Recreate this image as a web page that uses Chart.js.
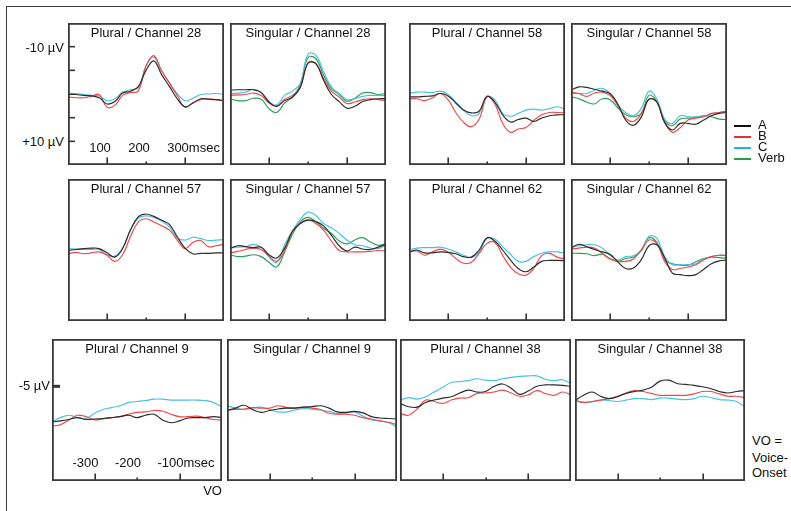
<!DOCTYPE html>
<html><head><meta charset="utf-8"><title>ERP channels</title>
<script src="https://cdn.jsdelivr.net/npm/chart.js@4.4.1/dist/chart.umd.min.js"></script>
<style>
html,body{margin:0;padding:0;background:#fff;}
body{position:relative;width:791px;height:511px;overflow:hidden;font-family:"Liberation Sans",Arial,Helvetica,sans-serif;font-size:13px;color:#111;}
#frame{position:absolute;left:6px;top:6px;width:830px;height:540px;border-left:1.5px solid #3c3c3c;border-top:1.5px solid #3c3c3c;}
canvas{position:absolute;display:block;}
.t{position:absolute;white-space:nowrap;line-height:16px;height:16px;}
.lg{position:absolute;height:2.5px;width:17px;}
</style></head><body>
<div id="frame"></div>
<script>
// ---- time bases (ms) ----
const tPost = [0,20,40,60,80,100,120,140,160,180,200,220,240,260,280,300,320,340,360,380,400];
const tPre  = [-400,-380,-360,-340,-320,-300,-280,-260,-240,-220,-200,-180,-160,-140,-120,-100,-80,-60,-40,-20,0];

// ---- tick values and labels ----
const postTicks = [100,200,300];
const postTickLabels = ['100','200','300'];
const preTicks = [-300,-200,-100];
const preTickLabels = ['-300','-200','-100'];
const unitLabel = 'msec';
const yTicksTop = [-10,-5,5,10];
const yTickLabelsTop = {'-10':'-10 µV','10':'+10 µV'};
const yTicksBottom = [-5];
const yTickLabelsBottom = {'-5':'-5 µV'};

// ---- series names ----
const seriesNames = ['A','B','C','Verb'];

// ---- data (µV, negative up) ----
// Plural / Channel 28
const pl28_A = [0.1,0.1,0.3,0.4,0.8,2.1,1.6,-0.2,-0.6,-1.5,-5.0,-7.0,-4.1,-1.6,1.0,2.7,1.9,1.0,1.1,1.2,1.4];
const pl28_B = [0.6,0.8,0.8,0.5,0.1,2.8,2.4,0.3,-0.3,-0.6,-5.9,-8.1,-4.9,-2.3,0.3,2.8,1.9,1.2,1.0,1.2,1.4];
const pl28_C = [-0.2,-0.1,0.1,0.3,0.4,1.4,1.0,-0.4,-0.9,-1.4,-5.9,-7.8,-4.9,-2.4,-0.1,1.4,0.9,0.1,0,-0.1,0.1];
// Singular / Channel 28
const sg28_A = [-0.8,-0.9,-0.9,-0.9,-0.3,1.7,2.6,1.4,0.7,-1.3,-6.5,-6.4,-2.9,0.1,1.6,3.0,2.6,1.6,1.2,1.0,1.0];
const sg28_B = [0.3,0.2,0.1,-0.2,0.3,1.9,2.6,1.1,0.3,-1.5,-6.6,-6.5,-3.3,-0.6,0.6,2.0,1.7,1.2,1.0,1.2,1.4];
const sg28_C = [-0.1,-0.2,-0.4,-1.0,-0.4,1.6,2.3,0.3,-0.6,-2.2,-8.4,-8.2,-4.7,-1.5,-0.1,1.2,1.0,0.5,0.3,0.3,0.3];
const sg28_V = [1.0,1.4,1.4,0.9,1.1,3.1,3.9,1.9,0.6,-1.9,-7.7,-7.5,-4.0,-1.1,0.1,1.5,0.9,-0.2,-0.3,0.1,-0.1];
// Plural / Channel 58
const pl58_A = [0.6,0.6,0.5,0.4,-0.1,0.4,1.9,3.4,4.0,3.6,0.5,1.7,4.4,5.9,5.4,5.1,5.8,5.1,4.6,4.4,4.4];
const pl58_B = [1.0,1.0,1.4,0.8,-0.1,1.2,3.9,6.0,6.9,5.3,0.6,2.1,6.2,8.1,7.4,7.1,5.6,4.4,3.9,3.9,4.0];
const pl58_C = [-0.1,-0.4,-0.4,-0.3,-0.6,0.1,1.7,3.5,4.6,4.1,0.6,1.2,4.1,4.7,4.1,3.4,3.2,3.4,3.1,2.7,3.2];
// Singular / Channel 58
const sg58_A = [-0.8,-1.5,-1.4,-1.0,-0.6,-0.1,2.1,5.5,6.6,4.9,1.1,1.7,6.0,7.6,6.2,6.2,6.4,5.5,4.6,4.1,3.9];
const sg58_B = [-0.4,-0.1,0.5,-0.2,-0.4,0.3,2.4,5.1,5.8,4.2,1.1,1.7,6.0,8.1,7.1,5.5,5.1,4.8,4.1,3.9,3.6];
const sg58_C = [-0.1,-0.1,-0.1,-0.8,-1.2,-0.1,2.4,3.9,4.6,3.1,-0.6,1.0,5.3,6.2,4.6,4.8,4.9,4.8,4.2,3.9,3.7];
const sg58_V = [0.6,1.0,1.7,2.1,1.0,1.2,2.9,4.4,4.8,4.1,0.3,1.5,5.6,6.7,5.3,5.1,4.9,4.6,4.8,5.3,5.4];
// Plural / Channel 57
const pl57_A = [0.1,-0.1,-0.3,-0.4,-0.3,0.6,1.5,-0.3,-4.2,-7.0,-7.6,-7.1,-6.3,-5.4,-2.8,-0.4,0.8,0.7,0.7,0.6,0.6];
const pl57_B = [0.8,0.5,0.8,0.6,0.4,1.1,2.4,1.0,-2.8,-5.9,-6.6,-5.9,-5.1,-4.2,-2.1,-0.3,-1.6,-2.0,-0.7,-0.9,-1.2];
const pl57_C = [-0.3,-0.2,-0.1,-0.1,-0.1,1.0,1.3,-0.4,-4.2,-6.7,-7.2,-6.9,-6.1,-4.9,-2.6,-2.1,-2.7,-2.4,-2.0,-2.1,-2.2];
// Singular / Channel 57
const sg57_A = [-0.3,-0.9,-0.7,-0.5,-0.6,1.0,1.7,-0.4,-3.9,-5.6,-6.3,-6.0,-5.1,-3.1,-0.9,0.2,-0.6,-0.2,-0.1,-0.6,-1.3];
const sg57_B = [0.6,0.3,-0.1,-0.4,-0.1,1.3,2.4,0.1,-4.0,-5.6,-6.4,-5.6,-4.2,-1.9,0.1,0.4,0.4,0.4,0.3,0.1,0.2];
const sg57_C = [-0.4,-0.6,-0.7,-1.2,-0.6,1.5,2.6,-1.1,-4.0,-6.4,-8.0,-7.3,-5.6,-4.7,-3.5,-2.1,-1.1,-0.9,-0.4,-0.3,-1.0];
const sg57_V = [1.0,1.4,1.3,1.0,1.4,2.6,3.6,0.4,-3.3,-5.9,-6.9,-6.0,-4.6,-3.5,-1.9,-1.3,-2.1,-2.6,-1.7,-1.0,-1.3];
// Plural / Channel 62
const pl62_A = [0.4,0,0.6,0.6,0.4,0.5,0.8,1.4,1.5,0,-2.6,-1.9,0,2.1,3.9,4.6,3.6,2.4,2.2,2.2,2.3];
const pl62_B = [0.5,0.2,1.1,0.4,-0.2,0.4,1.8,2.8,2.6,0.7,-1.4,-1.6,1.1,3.6,5.0,5.3,3.9,1.2,0.7,1.5,1.9];
const pl62_C = [0,-0.4,-0.5,-0.5,-0.6,-0.2,0.4,1.1,1.6,0.4,-2.4,-2.3,-0.7,0.9,2.4,2.4,1.4,0.7,0.4,0.4,0.7];
// Singular / Channel 62
const sg62_A = [-0.4,-1.2,-0.7,-0.1,0.4,0.9,2.5,3.9,3.8,2.1,-0.9,-1.1,1.6,4.9,5.2,5.4,5.2,4.1,2.9,2.3,2.1];
const sg62_B = [-0.2,-0.4,-0.6,-0.4,0.7,1.9,2.4,2.4,1.9,0,-2.1,-1.4,2.4,4.1,3.9,3.6,3.1,2.1,1.4,1.1,1.2];
const sg62_C = [-0.7,-0.9,-1.1,-1.1,-0.4,1.1,2.1,1.4,1.2,0,-2.9,-2.5,1.4,3.1,3.1,3.1,2.9,1.9,1.4,1.1,1.2];
const sg62_V = [0.7,0.7,0.8,1.2,0.9,1.8,2.4,1.8,1.5,0.2,-2.6,-1.6,2.1,2.9,3.2,3.2,2.5,1.8,1.5,1.6,1.8];
// Plural / Channel 9 (pre voice onset)
const pl9_A = [2.5,2.3,2.0,1.6,2.0,1.9,1.8,1.6,1.4,1.1,1.6,1.1,0.9,2.1,2.7,2.3,1.7,1.6,1.6,1.4,1.6];
const pl9_B = [3.4,3.1,2.1,1.1,1.4,2.1,1.9,1.6,1.4,0.9,0.5,0.4,0.1,0.2,0.9,1.4,1.4,1.3,1.6,2.0,2.1];
const pl9_C = [2.5,1.6,1.1,1.6,1.8,0.7,-0.1,-0.5,-0.9,-1.6,-1.8,-2.0,-2.3,-2.3,-2.1,-2.1,-2.1,-2.1,-2.0,-1.6,-0.6];
// Singular / Channel 9
const sg9_A = [0.1,-0.4,-1.0,-0.1,0.5,0.1,-0.2,-0.4,-0.4,-0.6,-0.7,-0.9,-0.4,0.4,0.5,0.3,0.6,1.4,1.7,1.8,1.9];
const sg9_B = [0,-0.1,-0.2,-0.5,-0.4,-0.4,-0.9,-0.5,-0.4,-0.6,-0.4,-0.1,0.7,0.9,0.9,1.1,1.6,1.9,2.3,2.6,3.1];
const sg9_C = [-0.9,-0.4,-0.1,-0.4,-0.6,-0.1,0.4,0.4,0,-0.3,-0.2,0,0.3,0.7,0.7,0.4,1.3,2.1,2.3,2.7,3.6];
// Plural / Channel 38
const pl38_A = [-1.4,-0.7,-0.6,-1.6,-2.1,-2.5,-2.8,-3.6,-4.2,-3.8,-3.9,-5.0,-5.5,-4.6,-3.3,-4.0,-5.0,-5.3,-5.3,-5.2,-5.0];
const pl38_B = [0.7,1.1,-0.2,-2.1,-1.8,-1.4,-2.1,-2.5,-2.6,-3.5,-3.6,-3.8,-4.2,-3.6,-2.9,-3.2,-4.1,-3.5,-3.1,-3.8,-3.2];
const pl38_C = [-2.1,-2.6,-2.3,-2.8,-3.8,-4.8,-5.8,-6.0,-6.2,-6.6,-6.3,-6.2,-6.6,-6.9,-7.1,-7.2,-7.2,-6.5,-6.2,-6.4,-5.6];
// Singular / Channel 38
const sg38_A = [-2.0,-3.1,-3.8,-2.9,-2.4,-2.8,-3.5,-3.9,-4.2,-4.8,-6.1,-6.3,-5.6,-5.4,-5.2,-4.9,-4.5,-3.9,-3.6,-3.9,-4.1];
const sg38_B = [-2.0,-1.6,-1.8,-2.1,-2.4,-2.9,-3.6,-4.1,-3.9,-3.5,-3.1,-3.1,-3.1,-3.1,-3.4,-3.9,-3.9,-3.4,-2.9,-2.9,-2.6];
const sg38_C = [-2.0,-1.6,-1.7,-2.1,-2.0,-1.8,-2.1,-2.4,-2.4,-2.2,-2.5,-2.5,-2.3,-2.2,-2.4,-2.9,-2.6,-2.2,-2.1,-1.8,-0.6];

// ---- styling (kept apart from data) ----
const lineColors = {A:'#2a2a2a', B:'#f04848', C:'#45c2e2', Verb:'#2e9e56'};
const legendColors = {A:'#111111', B:'#e8302e', C:'#22b2d8', Verb:'#2a9a48'};

// ---- panel layout: [left, top, width, height] ----
const panels = [
  {title:'Plural / Channel 28',   box:[68,23,156,142],  t:tPost, s:{A:pl28_A,B:pl28_B,C:pl28_C}, yt:'top', xl:'post'},
  {title:'Singular / Channel 28', box:[230,23,156,142], t:tPost, s:{A:sg28_A,B:sg28_B,C:sg28_C,Verb:sg28_V}},
  {title:'Plural / Channel 58',   box:[409,23,156,142], t:tPost, s:{A:pl58_A,B:pl58_B,C:pl58_C}},
  {title:'Singular / Channel 58', box:[571,23,156,142], t:tPost, s:{A:sg58_A,B:sg58_B,C:sg58_C,Verb:sg58_V}},
  {title:'Plural / Channel 57',   box:[68,179,156,142], t:tPost, s:{A:pl57_A,B:pl57_B,C:pl57_C}},
  {title:'Singular / Channel 57', box:[230,179,156,142],t:tPost, s:{A:sg57_A,B:sg57_B,C:sg57_C,Verb:sg57_V}},
  {title:'Plural / Channel 62',   box:[409,179,156,142],t:tPost, s:{A:pl62_A,B:pl62_B,C:pl62_C}},
  {title:'Singular / Channel 62', box:[571,179,156,142],t:tPost, s:{A:sg62_A,B:sg62_B,C:sg62_C,Verb:sg62_V}},
  {title:'Plural / Channel 9',    box:[52,339,170,142], t:tPre,  s:{A:pl9_A,B:pl9_B,C:pl9_C}, yt:'bottom', xl:'pre'},
  {title:'Singular / Channel 9',  box:[227,339,170,142],t:tPre,  s:{A:sg9_A,B:sg9_B,C:sg9_C}},
  {title:'Plural / Channel 38',   box:[400,339,171,142],t:tPre,  s:{A:pl38_A,B:pl38_B,C:pl38_C}},
  {title:'Singular / Channel 38', box:[575,339,170,142],t:tPre,  s:{A:sg38_A,B:sg38_B,C:sg38_C}}
];

function addText(txt, x, yCenter, align){
  const d = document.createElement('div');
  d.className = 't';
  d.textContent = txt;
  d.style.left = x + 'px';
  d.style.top = (yCenter - 8) + 'px';
  if (align === 'center') d.style.transform = 'translateX(-50%)';
  if (align === 'right') d.style.transform = 'translateX(-100%)';
  document.body.appendChild(d);
  return d;
}

const deco = {
  id: 'deco',
  afterDatasetsDraw(chart, args, o) {
    const {ctx, chartArea: a, scales: {x, y}} = chart;
    ctx.save();
    ctx.strokeStyle = '#333';
    ctx.lineCap = 'butt';
    // bottom ticks (inside, pointing up)
    ctx.lineWidth = 1.6;
    o.xTicks.forEach((v, i) => {
      const px = Math.round(x.getPixelForValue(v)) + 0.2;
      const len = (i === 1) ? 3.5 : 7.5;
      ctx.beginPath(); ctx.moveTo(px, a.bottom); ctx.lineTo(px, a.bottom - len); ctx.stroke();
    });
    // y ticks (inside, pointing right)
    if (o.yTicks) {
      ctx.lineWidth = o.yTickWidth;
      o.yTicks.forEach(v => {
        const py = y.getPixelForValue(v);
        ctx.beginPath(); ctx.moveTo(a.left, py); ctx.lineTo(a.left + o.yTickLen, py); ctx.stroke();
      });
    }
    // panel frame
    ctx.strokeStyle = '#3a3a3a';
    ctx.lineWidth = 1.8;
    ctx.strokeRect(a.left + 0.9, a.top + 0.9, a.right - a.left - 1.8, a.bottom - a.top - 1.8);
    ctx.restore();
  }
};

panels.forEach(p => {
  const [L, T, W, H] = p.box;
  const cv = document.createElement('canvas');
  cv.width = W; cv.height = H;
  cv.style.left = L + 'px'; cv.style.top = T + 'px';
  cv.style.width = W + 'px'; cv.style.height = H + 'px';
  document.body.appendChild(cv);
  const isPost = p.t === tPost;
  const datasets = Object.keys(p.s).map(k => ({
    label: k,
    data: p.t.map((tv, i) => ({x: tv, y: p.s[k][i]})),
    borderColor: lineColors[k],
    borderWidth: 1.15,
    pointRadius: 0,
    tension: 0.4,
    fill: false
  }));
  let yTicks = null, yTickLen = 0, yTickWidth = 1.6;
  if (p.yt === 'top') { yTicks = yTicksTop; yTickLen = 7; yTickWidth = 1.6; }
  if (p.yt === 'bottom') { yTicks = yTicksBottom; yTickLen = 8; yTickWidth = 3; }
  const chart = new Chart(cv, {
    type: 'line',
    data: {datasets},
    options: {
      responsive: false, animation: false, devicePixelRatio: 1,
      layout: {padding: 0},
      events: [],
      plugins: {legend: {display: false}, tooltip: {enabled: false},
        deco: {xTicks: isPost ? postTicks : preTicks, yTicks, yTickLen, yTickWidth}},
      scales: {
        x: {type: 'linear', display: false, min: isPost ? 0 : -400, max: isPost ? 400 : 0},
        y: {type: 'linear', display: false, min: -15, max: 15, reverse: true}
      }
    },
    plugins: [deco]
  });
  // title
  addText(p.title, L + W / 2, T + 10.4, 'center');
  // y tick labels (outside left)
  if (p.yt === 'top') {
    yTicksTop.forEach(v => {
      const lab = yTickLabelsTop[String(v)];
      if (lab) addText(lab, L - 4, T + chart.scales.y.getPixelForValue(v) + 1, 'right');
    });
  }
  if (p.yt === 'bottom') {
    yTicksBottom.forEach(v => {
      const lab = yTickLabelsBottom[String(v)];
      if (lab) addText(lab, L - 2, T + chart.scales.y.getPixelForValue(v), 'right');
    });
  }
  // inner x tick labels
  if (p.xl) {
    const vals = p.xl === 'post' ? postTicks : preTicks;
    const labs = p.xl === 'post' ? postTickLabels : preTickLabels;
    const off = p.xl === 'post' ? 7 : 9;
    const yc = p.xl === 'post' ? T + 124.5 : T + 124.3;
    vals.forEach((v, i) => {
      const d = addText(labs[i], L + chart.scales.x.getPixelForValue(v) - off, yc, 'center');
      if (i === vals.length - 1) {
        const u = document.createElement('span');
        u.textContent = unitLabel;
        u.style.position = 'absolute'; u.style.left = '100%'; u.style.top = '0';
        d.appendChild(u);
      }
    });
  }
});

// VO marker label under Plural / Channel 9
addText('VO', 222, 491, 'right');

// legend
const legendRows = [126, 136.8, 147.8, 158.8];
seriesNames.forEach((n, i) => {
  const ln = document.createElement('div');
  ln.className = 'lg';
  ln.style.left = '734px';
  ln.style.top = (legendRows[i] - 1.2) + 'px';
  ln.style.background = legendColors[n];
  document.body.appendChild(ln);
  addText(n, 758, legendRows[i] - 1, 'left');
});

// note
addText('VO =', 752, 441, 'left');
addText('Voice-', 752, 457.5, 'left');
addText('Onset', 752, 472.5, 'left');
</script>
</body></html>
